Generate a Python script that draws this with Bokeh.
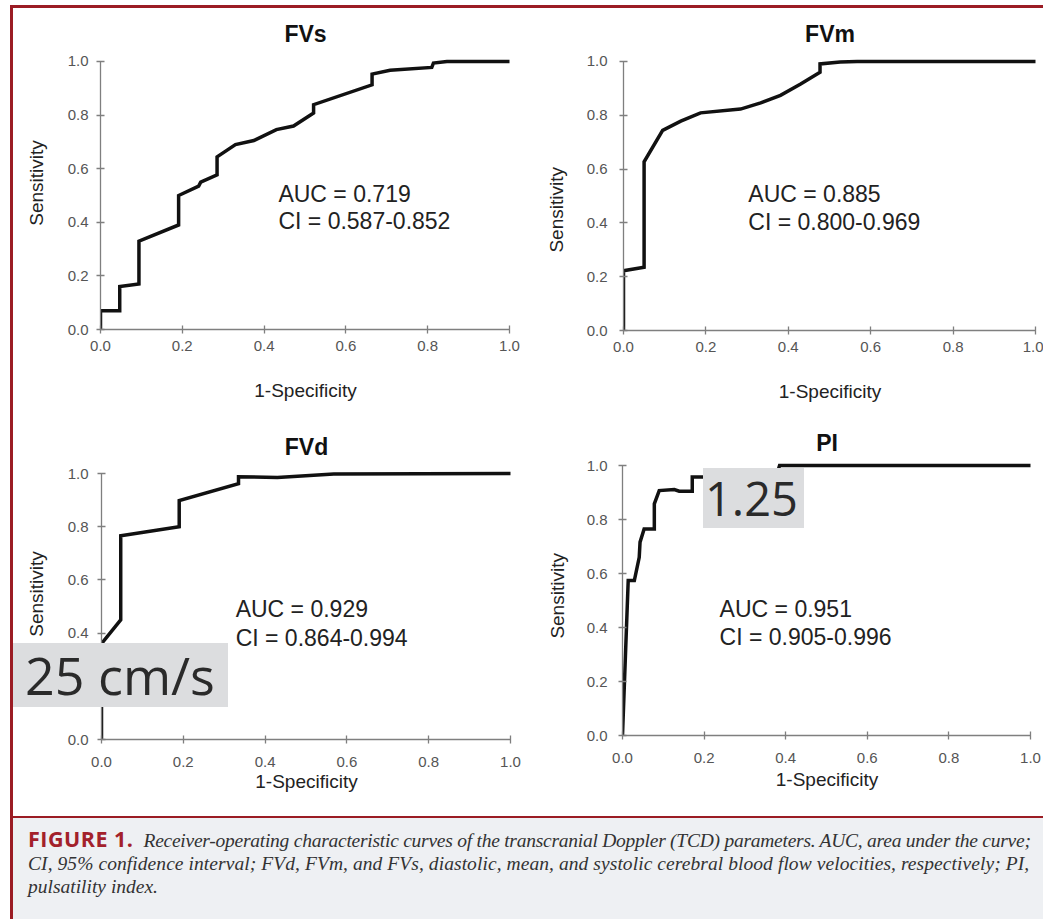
from bokeh.plotting import figure
from bokeh.models import Range1d, Label, Div, FixedTicker, NumeralTickFormatter
from bokeh.layouts import row, column
from bokeh.embed import file_html
from bokeh.resources import INLINE

# ---------------- data ----------------
titles = ["FVs", "FVm", "FVd", "PI"]
auc_text = ["AUC = 0.719", "AUC = 0.885", "AUC = 0.929", "AUC = 0.951"]
ci_text = ["CI = 0.587-0.852", "CI = 0.800-0.969", "CI = 0.864-0.994", "CI = 0.905-0.996"]
tick_values = [0.0, 0.2, 0.4, 0.6, 0.8, 1.0]
x_label = "1-Specificity"
y_label = "Sensitivity"
cutoff_labels = ["25 cm/s", "1.25"]

fvs_x = [0, 0, 0.047, 0.047, 0.094, 0.094, 0.191, 0.191, 0.24, 0.245, 0.285, 0.285,
         0.33, 0.375, 0.43, 0.472, 0.521, 0.521, 0.664, 0.664, 0.708, 0.81, 0.814, 0.847, 1.0]
fvs_y = [0, 0.07, 0.07, 0.16, 0.17, 0.33, 0.39, 0.50, 0.535, 0.55, 0.577, 0.644,
         0.69, 0.705, 0.746, 0.759, 0.808, 0.839, 0.913, 0.953, 0.967, 0.978, 0.994, 1.0, 1.0]

fvm_x = [0, 0, 0.05, 0.05, 0.095, 0.139, 0.187, 0.284, 0.333, 0.381, 0.43, 0.477, 0.477,
         0.526, 0.567, 1.0]
fvm_y = [0, 0.222, 0.235, 0.627, 0.744, 0.778, 0.809, 0.823, 0.846, 0.874, 0.916, 0.96, 0.991,
         0.998, 1.0, 1.0]

fvd_x = [0, 0, 0.047, 0.047, 0.19, 0.19, 0.335, 0.335, 0.43, 0.568, 1.0]
fvd_y = [0, 0.36, 0.45, 0.766, 0.80, 0.898, 0.962, 0.988, 0.985, 0.998, 1.0]

pi_x = [0, 0.014, 0.029, 0.041, 0.043, 0.053, 0.078, 0.078, 0.09, 0.127, 0.139, 0.171,
        0.171, 0.2, 0.38, 0.385, 1.0]
pi_y = [0, 0.574, 0.574, 0.66, 0.716, 0.765, 0.765, 0.858, 0.907, 0.911, 0.905, 0.905,
        0.957, 0.957, 0.975, 1.0, 1.0]

caption_head = "FIGURE 1."
caption_lines = [
    "Receiver-operating characteristic curves of the transcranial Doppler (TCD) parameters. AUC, area under the curve;",
    "CI, 95% confidence interval; FVd, FVm, and FVs, diastolic, mean, and systolic cerebral blood flow velocities, respectively; PI,",
    "pulsatility index.",
]

# ---------------- style ----------------
RED = "#9b1c24"
AXIS = "#7f7f7f"
TICK_TXT = "#555555"
SANS = "Liberation Sans"
NB = "\u00a0"


def panel(idx, xs, ys, w, h, x0, x1, y1, y0, title_standoff, xl_std, xal_std, yl_std, yal_std,
          auc_pos, ylab_shift=(0, 0)):
    padR, padT = 1, 4
    sx = x1 - x0
    sy = y0 - y1
    p = figure(width=w, height=h, output_backend="svg", toolbar_location=None,
               x_range=Range1d(0, 1 + padR / sx),
               y_range=Range1d(0, 1 + padT / sy),
               min_border_left=x0, min_border_right=w - (x1 + padR),
               min_border_top=y1 - padT, min_border_bottom=h - y0,
               title=titles[idx])
    p.outline_line_color = None
    p.xgrid.visible = False
    p.ygrid.visible = False
    p.background_fill_color = "white"
    p.border_fill_color = "white"

    p.title.align = "center"
    p.title.text_font = SANS
    p.title.text_font_size = "23px"
    p.title.text_font_style = "bold"
    p.title.text_color = "#111111"
    p.title.standoff = title_standoff

    for ax in (p.xaxis[0], p.yaxis[0]):
        ax.bounds = (0, 1)
        ax.ticker = FixedTicker(ticks=tick_values)
        ax.formatter = NumeralTickFormatter(format="0.0")
        ax.minor_tick_line_color = None
        ax.major_tick_in = 4
        ax.major_tick_out = 4
        ax.axis_line_color = AXIS
        ax.axis_line_width = 1.3
        ax.major_tick_line_color = AXIS
        ax.major_tick_line_width = 1.3
        ax.major_label_text_font = SANS
        ax.major_label_text_font_size = "15px"
        ax.major_label_text_color = TICK_TXT
        ax.axis_label_text_font = SANS
        ax.axis_label_text_font_size = "19px"
        ax.axis_label_text_font_style = "normal"
        ax.axis_label_text_color = "#222222"
    p.xaxis[0].axis_label = x_label
    # non-breaking spaces only nudge the centred label along the axis, as in the original
    p.yaxis[0].axis_label = NB * ylab_shift[0] + y_label + NB * ylab_shift[1]
    p.xaxis[0].major_label_standoff = xl_std
    p.xaxis[0].axis_label_standoff = xal_std
    p.yaxis[0].major_label_standoff = yl_std
    p.yaxis[0].axis_label_standoff = yal_std

    p.line(xs, ys, line_width=3.5, line_color="#111111", line_join="miter")

    ax_, ay1, ay2 = auc_pos
    for txt, yy in ((auc_text[idx], ay1), (ci_text[idx], ay2)):
        p.add_layout(Label(x=ax_, y=yy, text=txt, text_font=SANS, text_font_size="23px",
                           text_color="#222222", text_baseline="middle", text_align="left"))
    return p


p1 = panel(0, fvs_x, fvs_y, 527, 405, 87, 496, 52, 321, 21, 7, 26, 8, 18,
           (0.435, 0.506, 0.405), (4, 0))
p2 = panel(1, fvm_x, fvm_y, 503, 405, 83, 495, 52, 322, 21, 7, 26, 12, 17,
           (0.303, 0.507, 0.404), (0, 6))
p3 = panel(2, fvd_x, fvd_y, 527, 403, 88, 497, 60, 326, 20, 13, 1, 9, 18,
           (0.328, 0.492, 0.383), (4, 0))
p4 = panel(3, pi_x, pi_y, 503, 403, 82, 490, 52, 322, 12, 13, 3, 11, 16,
           (0.238, 0.470, 0.363), (1, 0))

# cut-off value overlays (HTML boxes laid over the plots, relative to the caption's top-left)
box_style = ("position:absolute;background:#dcdddf;z-index:10;font-family:'Open Sans';"
             "color:#2a2a2a;box-sizing:border-box;white-space:nowrap;")
overlay = (
    "<div style=\"%sleft:0;top:-173px;width:215px;height:64px;font-size:52px;line-height:64px;"
    "padding-left:12px;\">%s</div>" % (box_style, cutoff_labels[0])
    + "<div style=\"%sleft:690px;top:-348px;width:101px;height:60px;font-size:47px;"
    "line-height:60px;padding-left:2px;\">%s</div>" % (box_style, cutoff_labels[1])
)
caption_box = (
    "<div style=\"position:absolute;left:0;top:0;width:1030px;height:103px;box-sizing:border-box;"
    "border-top:2px solid %s;background:#eef0f3;padding:9px 0 0 15px;overflow:hidden;"
    "white-space:nowrap;font-family:'Liberation Serif';font-style:italic;font-size:19.5px;"
    "line-height:23px;color:#333;\">"
    "<span style=\"font-family:'Open Sans';font-style:normal;font-weight:700;color:#a3212b;"
    "font-size:21.5px;letter-spacing:0.5px;padding-right:10px;\">%s</span>"
    "<span style=\"letter-spacing:-0.25px;\">%s</span><br>"
    "<span style=\"letter-spacing:0.07px;\">%s</span><br>%s</div>"
    % (RED, caption_head, caption_lines[0], caption_lines[1], caption_lines[2])
)
caption_html = ("<div style=\"position:relative;width:1030px;height:103px;overflow:visible;\">"
                + overlay + caption_box + "</div>")
caption = Div(text=caption_html, width=1030, height=103, margin=(0, 0, 0, 0),
              styles={"overflow": "visible", "position": "relative", "z-index": "5"})

# each figure wrapped on its own so that the frames of neighbouring panels are not aligned
layout = column(row(column(p1), column(p2)), row(column(p3), column(p4)), caption,
                styles={"border-top": "3px solid " + RED, "border-left": "3px solid " + RED,
                        "margin-left": "10px", "margin-top": "5px"})

open("out.html", "w").write(file_html(layout, INLINE))
